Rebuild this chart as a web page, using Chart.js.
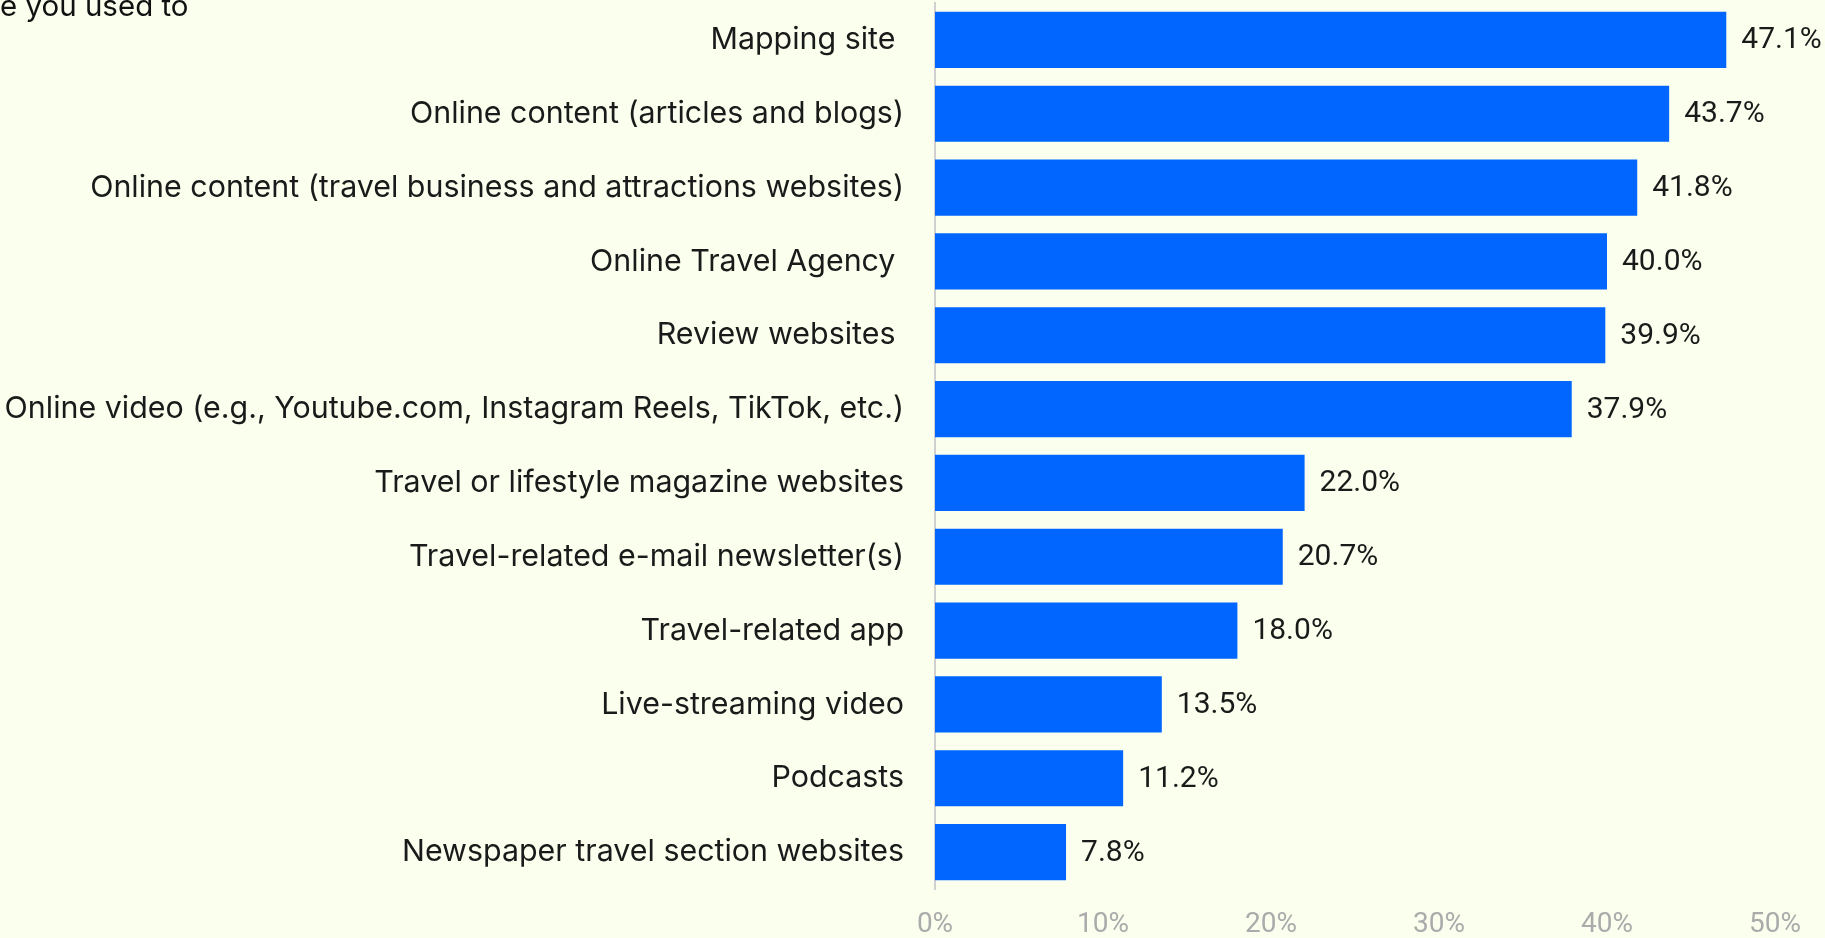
<!DOCTYPE html>
<html>
<head>
<meta charset="utf-8">
<script src="https://cdn.jsdelivr.net/npm/chart.js@4"></script>
<style>
    html, body { margin: 0; padding: 0; background: #fbffee; }
    #wrap { position: relative; width: 1825px; height: 938px; }
    #titre {
        position: absolute; left: 0; top: -9px;
        font-family: Inter, sans-serif; font-size: 29.5px; line-height: 29px;
        color: #111; white-space: nowrap;
    }
</style>
</head>
<body>
<div id="wrap">
    <canvas id="sourcesChart" width="1825" height="938"></canvas>
    <div id="titre">e you used to</div>
</div>
<script>
// données
const categories = [
    'Mapping site ',
    'Online content (articles and blogs)',
    'Online content (travel business and attractions websites)',
    'Online Travel Agency ',
    'Review websites ',
    'Online video (e.g., Youtube.com, Instagram Reels, TikTok, etc.)',
    'Travel or lifestyle magazine websites',
    'Travel-related e-mail newsletter(s)',
    'Travel-related app',
    'Live-streaming video',
    'Podcasts',
    'Newspaper travel section websites'
];
const values = [47.1, 43.7, 41.8, 40.0, 39.9, 37.9, 22.0, 20.7, 18.0, 13.5, 11.2, 7.8];
const xTicks = [0, 10, 20, 30, 40, 50];

// étiquettes de valeur au bout des barres
const valueLabels = {
    id: 'valueLabels',
    afterDatasetsDraw(chart) {
        const ctx = chart.ctx;
        const meta = chart.getDatasetMeta(0);
        ctx.save();
        ctx.font = '30px Roboto, sans-serif';
        ctx.fillStyle = '#1a1a1a';
        ctx.textAlign = 'left';
        ctx.textBaseline = 'middle';
        meta.data.forEach((bar, i) => {
            ctx.fillText(values[i].toFixed(1) + '%', bar.x + 15, bar.y + 1);
        });
        ctx.restore();
    }
};

const ctx = document.getElementById('sourcesChart').getContext('2d');
new Chart(ctx, {
    type: 'bar',
    data: {
        labels: categories,
        datasets: [{
            data: values,
            backgroundColor: '#0066ff',
            categoryPercentage: 1,
            barPercentage: 0.76
        }]
    },
    options: {
        responsive: false,
        animation: false,
        indexAxis: 'y',
        layout: {
            padding: { top: 3, right: 50, bottom: 1, left: 0 }
        },
        plugins: {
            legend: { display: false },
            tooltip: { enabled: false }
        },
        scales: {
            x: {
                min: 0,
                max: 50,
                afterBuildTicks: scale => {
                    scale.ticks = xTicks.map(v => ({ value: v }));
                },
                afterFit: scale => { scale.height = 48; },
                grid: { display: false, drawTicks: false },
                border: { display: false },
                ticks: {
                    color: '#ababab',
                    padding: 19,
                    maxRotation: 0,
                    font: { family: 'Roboto, sans-serif', size: 28 },
                    callback: v => v + '%'
                }
            },
            y: {
                afterFit: scale => {
                    scale.width = 935;
                    scale.paddingTop = 0;
                    scale.paddingBottom = 0;
                },
                grid: { display: false, drawTicks: false },
                border: { display: true, color: '#d0d0d0', width: 2 },
                ticks: {
                    color: '#1a1a1a',
                    padding: 31,
                    font: { family: 'Inter, sans-serif', size: 30.4 }
                }
            }
        }
    },
    plugins: [valueLabels]
});
</script>
</body>
</html>
